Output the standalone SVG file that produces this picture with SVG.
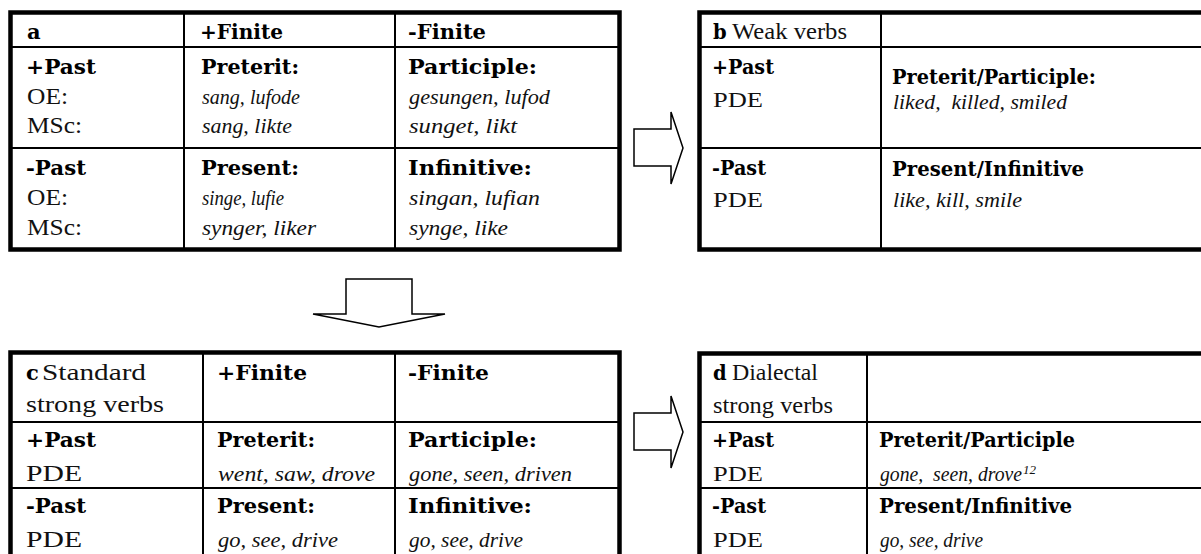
<svg xmlns="http://www.w3.org/2000/svg" width="1201" height="554" viewBox="0 0 1201 554">
<style>
.outer{fill:none;stroke:#000;stroke-width:4.5}
.inner{stroke:#000;stroke-width:2}
.arrow{fill:#fff;stroke:#000;stroke-width:1.5;stroke-linejoin:miter}
.b{font-family:"DejaVu Serif",serif;font-weight:bold;font-size:21px;fill:#000}
.r{font-family:"Liberation Serif",serif;font-size:24px;fill:#111}
.i{font-family:"Liberation Serif",serif;font-style:italic;font-size:22px;fill:#111;white-space:pre}
.br{font-family:"DejaVu Serif",serif;font-weight:bold;font-size:19.5px;fill:#000}
.rr{font-family:"Liberation Serif",serif;font-size:22px;fill:#111}
.ir{font-family:"Liberation Serif",serif;font-style:italic;font-size:20px;fill:#111;white-space:pre}
.sup{font-family:"Liberation Serif",serif;font-style:italic;font-size:13px;fill:#111}
</style>
<rect width="1201" height="554" fill="#fff"/>

<g id="table-a">
<rect class="outer" x="10.5" y="12.5" width="609" height="237"/>
<line class="inner" x1="184" y1="12.5" x2="184" y2="249.5"/>
<line class="inner" x1="395" y1="12.5" x2="395" y2="249.5"/>
<line class="inner" x1="10.5" y1="47" x2="619.5" y2="47"/>
<line class="inner" x1="10.5" y1="148" x2="619.5" y2="148"/>
<text class="b" x="27" y="39">a</text>
<text class="b" x="200" y="39" textLength="83" lengthAdjust="spacingAndGlyphs">+Finite</text>
<text class="b" x="408" y="39" textLength="78" lengthAdjust="spacingAndGlyphs">-Finite</text>
<text class="b" x="26" y="74" textLength="70" lengthAdjust="spacingAndGlyphs">+Past</text>
<text class="r" x="27" y="104" textLength="41" lengthAdjust="spacingAndGlyphs">OE:</text>
<text class="r" x="27" y="133" textLength="55" lengthAdjust="spacingAndGlyphs">MSc:</text>
<text class="b" x="26" y="175" textLength="60" lengthAdjust="spacingAndGlyphs">-Past</text>
<text class="r" x="27" y="205" textLength="41" lengthAdjust="spacingAndGlyphs">OE:</text>
<text class="r" x="27" y="235" textLength="55" lengthAdjust="spacingAndGlyphs">MSc:</text>
<text class="b" x="201" y="74" textLength="98" lengthAdjust="spacingAndGlyphs">Preterit:</text>
<text class="i" x="202" y="104" textLength="98" lengthAdjust="spacingAndGlyphs">sang, lufode</text>
<text class="i" x="202" y="133" textLength="90" lengthAdjust="spacingAndGlyphs">sang, likte</text>
<text class="b" x="201" y="175" textLength="98" lengthAdjust="spacingAndGlyphs">Present:</text>
<text class="i" x="202" y="205" textLength="82" lengthAdjust="spacingAndGlyphs">singe, lufie</text>
<text class="i" x="202" y="235" textLength="114" lengthAdjust="spacingAndGlyphs">synger, liker</text>
<text class="b" x="408" y="74" textLength="129" lengthAdjust="spacingAndGlyphs">Participle:</text>
<text class="i" x="409" y="104" textLength="141" lengthAdjust="spacingAndGlyphs">gesungen, lufod</text>
<text class="i" x="409" y="133" textLength="108" lengthAdjust="spacingAndGlyphs">sunget, likt</text>
<text class="b" x="408" y="175" textLength="124" lengthAdjust="spacingAndGlyphs">Infinitive:</text>
<text class="i" x="409" y="205" textLength="131" lengthAdjust="spacingAndGlyphs">singan, lufian</text>
<text class="i" x="409" y="235" textLength="99" lengthAdjust="spacingAndGlyphs">synge, like</text>
</g>

<g id="table-b">
<rect class="outer" x="699.5" y="12.5" width="520" height="237"/>
<line class="inner" x1="881" y1="12.5" x2="881" y2="249.5"/>
<line class="inner" x1="699.5" y1="47" x2="1210" y2="47"/>
<line class="inner" x1="699.5" y1="148" x2="1210" y2="148"/>
<text class="br" x="713" y="39">b</text>
<text class="r" x="732" y="39" textLength="115" lengthAdjust="spacingAndGlyphs">Weak verbs</text>
<text class="br" x="712" y="74" textLength="62" lengthAdjust="spacingAndGlyphs">+Past</text>
<text class="rr" x="713" y="107" textLength="50" lengthAdjust="spacingAndGlyphs">PDE</text>
<text class="br" x="712" y="175" textLength="54" lengthAdjust="spacingAndGlyphs">-Past</text>
<text class="rr" x="713" y="207" textLength="50" lengthAdjust="spacingAndGlyphs">PDE</text>
<text class="br" x="892" y="84" textLength="204" lengthAdjust="spacingAndGlyphs">Preterit/Participle:</text>
<text class="ir" x="893" y="109" textLength="174" lengthAdjust="spacingAndGlyphs">liked,  killed, smiled</text>
<text class="br" x="892" y="176" textLength="192" lengthAdjust="spacingAndGlyphs">Present/Infinitive</text>
<text class="ir" x="893" y="207" textLength="129" lengthAdjust="spacingAndGlyphs">like, kill, smile</text>
</g>

<g id="table-c">
<rect class="outer" x="10.5" y="352.5" width="609" height="220"/>
<line class="inner" x1="203" y1="352.5" x2="203" y2="570"/>
<line class="inner" x1="395" y1="352.5" x2="395" y2="570"/>
<line class="inner" x1="10.5" y1="422" x2="619.5" y2="422"/>
<line class="inner" x1="10.5" y1="488" x2="619.5" y2="488"/>
<text class="b" x="26" y="380">c</text>
<text class="r" x="42" y="380" textLength="104" lengthAdjust="spacingAndGlyphs">Standard</text>
<text class="r" x="26" y="412" textLength="138" lengthAdjust="spacingAndGlyphs">strong verbs</text>
<text class="b" x="217" y="380" textLength="90" lengthAdjust="spacingAndGlyphs">+Finite</text>
<text class="b" x="408" y="380" textLength="81" lengthAdjust="spacingAndGlyphs">-Finite</text>
<text class="b" x="26" y="447" textLength="70" lengthAdjust="spacingAndGlyphs">+Past</text>
<text class="r" x="26" y="481" textLength="56" lengthAdjust="spacingAndGlyphs">PDE</text>
<text class="b" x="26" y="513" textLength="60" lengthAdjust="spacingAndGlyphs">-Past</text>
<text class="r" x="26" y="547" textLength="56" lengthAdjust="spacingAndGlyphs">PDE</text>
<text class="b" x="217" y="447" textLength="98" lengthAdjust="spacingAndGlyphs">Preterit:</text>
<text class="i" x="218" y="481" textLength="157" lengthAdjust="spacingAndGlyphs">went, saw, drove</text>
<text class="b" x="217" y="513" textLength="98" lengthAdjust="spacingAndGlyphs">Present:</text>
<text class="i" x="218" y="547" textLength="120" lengthAdjust="spacingAndGlyphs">go, see, drive</text>
<text class="b" x="408" y="447" textLength="129" lengthAdjust="spacingAndGlyphs">Participle:</text>
<text class="i" x="409" y="481" textLength="163" lengthAdjust="spacingAndGlyphs">gone, seen, driven</text>
<text class="b" x="408" y="513" textLength="124" lengthAdjust="spacingAndGlyphs">Infinitive:</text>
<text class="i" x="409" y="547" textLength="114" lengthAdjust="spacingAndGlyphs">go, see, drive</text>
</g>

<g id="table-d">
<rect class="outer" x="699.5" y="353.5" width="520" height="220"/>
<line class="inner" x1="867" y1="353.5" x2="867" y2="570"/>
<line class="inner" x1="699.5" y1="422" x2="1210" y2="422"/>
<line class="inner" x1="699.5" y1="488" x2="1210" y2="488"/>
<text class="br" x="713" y="380">d</text>
<text class="r" x="732" y="380" textLength="86" lengthAdjust="spacingAndGlyphs">Dialectal</text>
<text class="r" x="713" y="413" textLength="120" lengthAdjust="spacingAndGlyphs">strong verbs</text>
<text class="br" x="712" y="447" textLength="62" lengthAdjust="spacingAndGlyphs">+Past</text>
<text class="rr" x="713" y="481" textLength="50" lengthAdjust="spacingAndGlyphs">PDE</text>
<text class="br" x="712" y="513" textLength="54" lengthAdjust="spacingAndGlyphs">-Past</text>
<text class="rr" x="713" y="547" textLength="50" lengthAdjust="spacingAndGlyphs">PDE</text>
<text class="br" x="879" y="447" textLength="196" lengthAdjust="spacingAndGlyphs">Preterit/Participle</text>
<text class="ir" x="880" y="481" textLength="142" lengthAdjust="spacingAndGlyphs">gone,  seen, drove</text>
<text class="sup" x="1023" y="474" textLength="13" lengthAdjust="spacingAndGlyphs">12</text>
<text class="br" x="879" y="513" textLength="193" lengthAdjust="spacingAndGlyphs">Present/Infinitive</text>
<text class="ir" x="880" y="547" textLength="103" lengthAdjust="spacingAndGlyphs">go, see, drive</text>
</g>

<g id="connectors">
<polygon class="arrow" points="634,129 671,129 671,112 683,148 671,184 671,166 634,166"/>
<polygon class="arrow" points="346,279 412,279 412,314 445,314 379,327 313,314 346,314"/>
<polygon class="arrow" points="634,413 671,413 671,396 683,432 671,468 671,450 634,450"/>
</g>
</svg>
